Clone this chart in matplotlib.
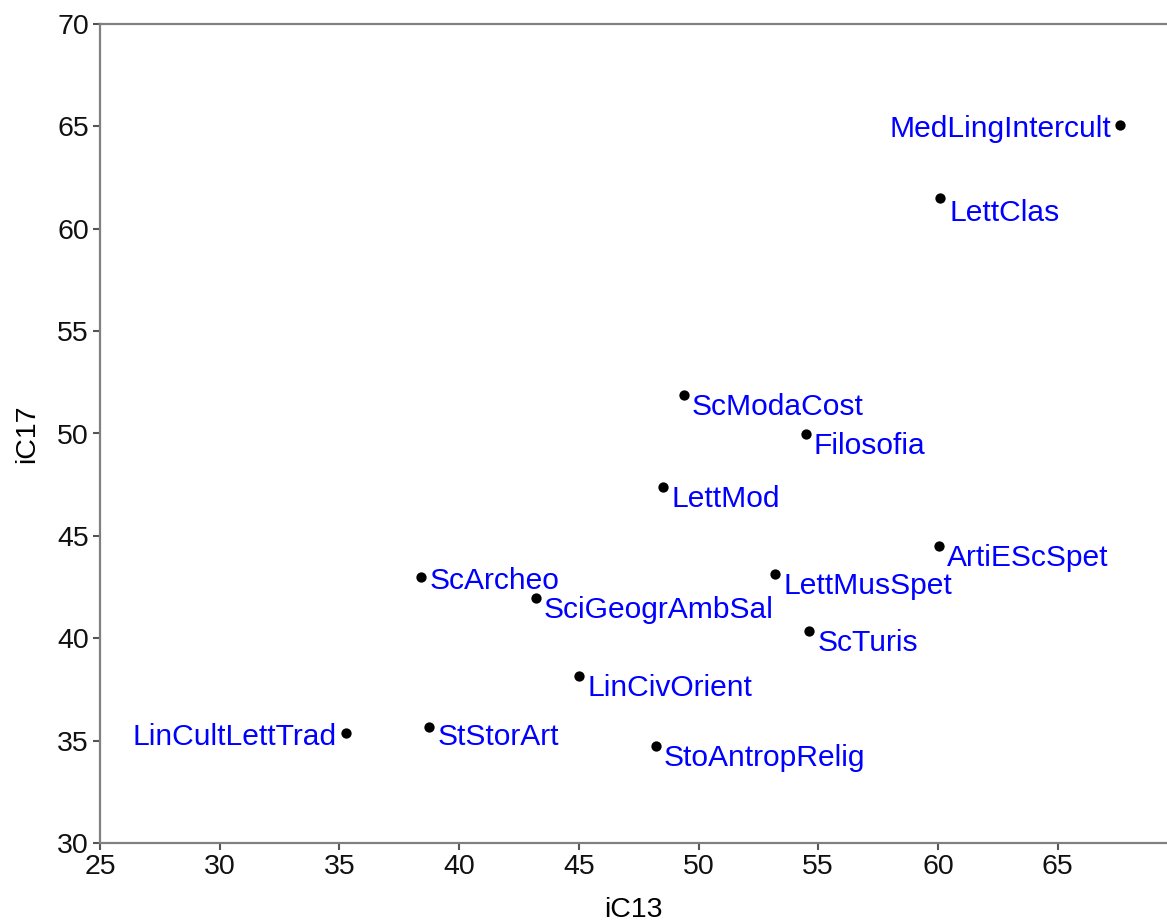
import matplotlib
matplotlib.use("Agg")
import matplotlib.pyplot as plt

plt.rcParams['font.family'] = ['Liberation Sans', 'DejaVu Sans']

labels = ["MedLingIntercult", "LettClas", "ScModaCost", "Filosofia", "LettMod",
          "ArtiEScSpet", "ScArcheo", "LettMusSpet", "SciGeogrAmbSal", "ScTuris",
          "LinCivOrient", "LinCultLettTrad", "StStorArt", "StoAntropRelig"]
iC13 = [67.61, 60.09, 49.39, 54.49, 48.52, 60.05, 38.41, 53.20, 43.21, 54.62,
        45.01, 35.28, 38.74, 48.22]
iC17 = [65.07, 61.50, 51.88, 49.98, 47.39, 44.51, 42.99, 43.14, 41.97, 40.35,
        38.16, 35.37, 35.67, 34.74]
left_side = {"MedLingIntercult", "LinCultLettTrad"}
# label offsets (pixels) relative to point
offsets = {"MedLingIntercult": (-9, -12), "LinCultLettTrad": (-9, -12),
           "ScArcheo": (9, -12), "LettClas": (9, -23), "StStorArt": (9, -18)}

x_ticks = [25, 30, 35, 40, 45, 50, 55, 60, 65]
y_ticks = [30, 35, 40, 45, 50, 55, 60, 65, 70]

fig = plt.figure(figsize=(11.67, 9.22), dpi=100)
ax = fig.add_axes([100/1167, 1 - 843/922, 1 - 100/1167, (843 - 24)/922])

ax.scatter(iC13, iC17, s=55, color='black', zorder=3, linewidths=0)

for lab, x, y in zip(labels, iC13, iC17):
    off = offsets.get(lab, (8, -20))
    ax.annotate(lab, (x, y), xytext=off, textcoords='offset pixels',
                ha='right' if lab in left_side else 'left', va='baseline',
                color='#0000FF', fontsize=21.6)

ax.set_xlim(25, 25 + 1067/23.94)
ax.set_ylim(30, 70)
ax.set_xticks(x_ticks)
ax.set_yticks(y_ticks)
ax.set_xlabel("iC13", fontsize=20.5, labelpad=12)
ax.set_ylabel("iC17", fontsize=20.5, labelpad=12)

for side in ['left', 'bottom', 'top']:
    ax.spines[side].set_color('#808080')
    ax.spines[side].set_linewidth(1.6)
ax.spines['right'].set_visible(False)
ax.tick_params(axis='both', which='both', direction='out', length=5, width=1.5,
               color='#555555', labelsize=20.5, pad=3, labelcolor='#111111')
ax.tick_params(top=False, right=False)

fig.savefig("out.png", dpi=100)
